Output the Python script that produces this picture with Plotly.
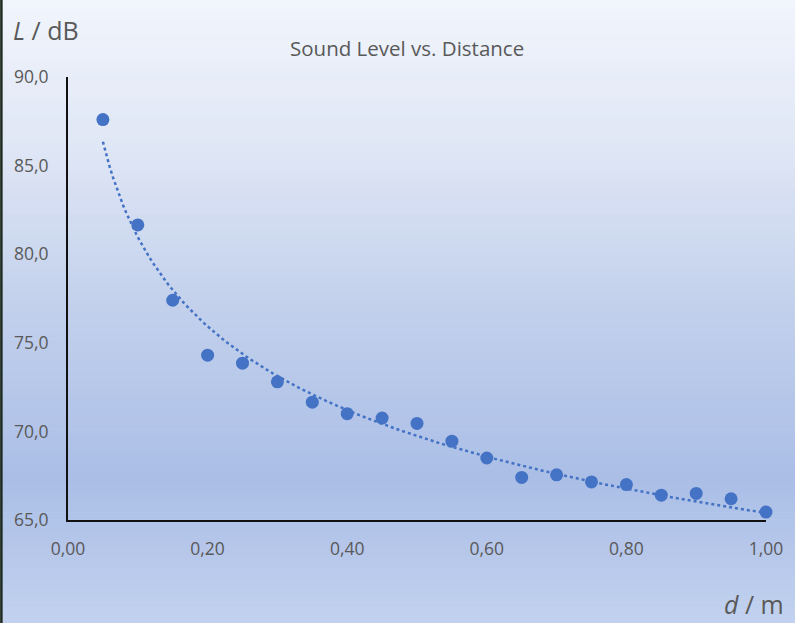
import numpy as np
import plotly.graph_objects as go

distance_m = [0.05, 0.10, 0.15, 0.20, 0.25, 0.30, 0.35, 0.40, 0.45, 0.50,
              0.55, 0.60, 0.65, 0.70, 0.75, 0.80, 0.85, 0.90, 0.95, 1.00]
level_db = [87.6, 81.65, 77.4, 74.3, 73.85, 72.8, 71.65, 71.0, 70.75, 70.45,
            69.45, 68.5, 67.4, 67.55, 67.15, 67.0, 66.4, 66.5, 66.2, 65.45]
x_ticks = [0.0, 0.2, 0.4, 0.6, 0.8, 1.0]
y_ticks = [65, 70, 75, 80, 85, 90]

W, H = 795, 623
ML, MR, MT, MB = 68, 27, 77, 103
PW, PH = W - ML - MR, H - MT - MB

# power trendline L = a * d^b (least squares in log-log space)
b, ln_a = np.polyfit(np.log(distance_m), np.log(level_db), 1)
xf = np.linspace(min(distance_m), max(distance_m), 200)
yf = np.exp(ln_a) * xf ** b

fig = go.Figure()
fig.add_trace(go.Scatter(x=xf, y=yf, mode="lines",
                         line=dict(color="#4472c4", width=2.5, dash="dot"),
                         hoverinfo="skip", showlegend=False, cliponaxis=False))
fig.add_trace(go.Scatter(x=distance_m, y=level_db, mode="markers",
                         marker=dict(color="#4472c4", size=13),
                         showlegend=False, cliponaxis=False))

# background gradient
stops = [(0, (241, 245, 252)), (150, (223, 230, 245)), (300, (195, 209, 236)),
         (480, (170, 190, 230)), (623, (194, 209, 239))]
def col_at(yp):
    for (y0, c0), (y1, c1) in zip(stops[:-1], stops[1:]):
        if y0 <= yp <= y1:
            t = (yp - y0) / (y1 - y0)
            return "rgb(%d,%d,%d)" % tuple(round(c0[i] + (c1[i] - c0[i]) * t) for i in range(3))
    return "rgb(%d,%d,%d)" % stops[-1][1]

shapes = []
n = 90
step = H / n
for i in range(n):
    Y0 = i * step
    Y1 = (i + 1) * step + 0.6
    shapes.append(dict(type="rect", xref="paper", yref="paper",
                       x0=-ML / PW - 0.01, x1=1 + MR / PW + 0.01,
                       y0=(H - MB - Y1) / PH, y1=(H - MB - Y0) / PH,
                       fillcolor=col_at(Y0 + step / 2), line=dict(width=0),
                       layer="below"))
# left dark border
shapes.append(dict(type="line", xref="paper", yref="paper",
                   x0=(1.2 - ML) / PW, x1=(1.2 - ML) / PW,
                   y0=(H - MB - H) / PH - 0.01, y1=(H - MB) / PH + 0.01,
                   line=dict(color="#1e2a1e", width=2.5)))

font = "Open Sans, Liberation Sans, sans-serif"
fig.update_layout(
    width=W, height=H,
    margin=dict(l=ML, r=MR, t=MT, b=MB),
    paper_bgcolor="#e8eef8", plot_bgcolor="rgba(0,0,0,0)",
    separators=",.",
    shapes=shapes,
    font=dict(family=font, color="#595959"),
    xaxis=dict(range=[0, 1], tickvals=x_ticks, tickformat=".2f",
               showgrid=False, zeroline=False, showline=True,
               linecolor="#111111", linewidth=2, ticks="",
               tickfont=dict(size=17.5, color="#595959"), ticklabelstandoff=12),
    yaxis=dict(range=[65, 90], tickvals=y_ticks, tickformat=".1f",
               showgrid=False, zeroline=False, showline=True,
               linecolor="#111111", linewidth=2, ticks="",
               tickfont=dict(size=17.5, color="#595959"), ticklabelstandoff=14),
    annotations=[
        dict(text="Sound Level vs. Distance", xref="paper", yref="paper",
             x=(408 - ML) / PW, y=(H - MB - 48) / PH, showarrow=False,
             xanchor="center", yanchor="middle",
             font=dict(size=20.5, color="#595959", family=font)),
        dict(text="<i>L</i> / dB", xref="paper", yref="paper",
             x=(46 - ML) / PW, y=(H - MB - 30) / PH, showarrow=False,
             xanchor="center", yanchor="middle",
             font=dict(size=25, color="#595959", family=font)),
        dict(text="<i>d</i> / m", xref="paper", yref="paper",
             x=(756 - ML) / PW, y=(H - MB - 604) / PH, showarrow=False,
             xanchor="center", yanchor="middle",
             font=dict(size=25, color="#595959", family=font)),
    ],
)
fig.write_html("out.html", config={"displayModeBar": False},
               post_script="document.body.style.margin='0';document.body.style.overflow='hidden';")
